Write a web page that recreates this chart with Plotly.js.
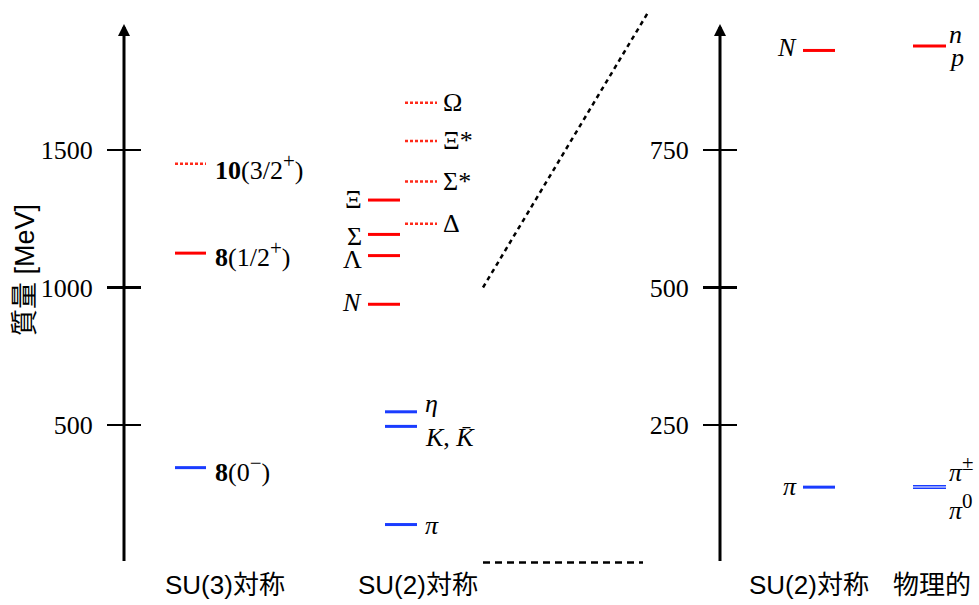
<!DOCTYPE html>
<html>
<head>
<meta charset="utf-8">
<script src="https://cdn.plot.ly/plotly-3.0.1.min.js"></script>
<style>html,body{margin:0;padding:0;background:#fff;}#chart{width:979px;height:605px;}</style>
</head>
<body>
<div id="chart"></div>
<script>
// ---------- data (MeV) ----------
const SUP = s => '<sup><span style="font-size:21px">' + s + '</span></sup>';
const su3Names = ['<b>10</b>(3/2' + SUP('+') + ')', '<b>8</b>(1/2' + SUP('+') + ')', '<b>8</b>(0' + SUP('−') + ')'];
const su3Mass  = [1450, 1125, 345];

const octetNames = ['Ξ', 'Σ', 'Λ', '<i>N</i>'];
const octetMass  = [1318, 1193, 1116, 939];

const decupletNames = ['Ω', 'Ξ*', 'Σ*', 'Δ'];
const decupletMass  = [1672, 1533, 1385, 1232];

const mesonNames = ['<i>η</i>', '<i>K</i>, <i>K̄</i>', '<i>π</i>'];
const mesonMass  = [548, 495, 138];

const su2RightNames = ['<i>N</i>', '<i>π</i>'];
const su2RightMass  = [931, 137];

const physNames = ['<i>n</i>', '<i>p</i>', '<i>π</i>' + SUP('±'), '<i>π</i>' + SUP('0')];
const physMass  = [939.6, 938.3, 139.6, 135.0];

const leftTicks  = [500, 1000, 1500];
const rightTicks = [250, 500, 750];
const zoomTop = 1000;       // upper end of the magnified region
const groupLabels = ['SU(3)対称', 'SU(2)対称', 'SU(2)対称', '物理的'];

// ---------- styling ----------
const RED = '#ff0000', RED_DOT = '#ff2a1a', BLUE = '#1a3cff';
const SERIF = 'Liberation Serif, Times New Roman, serif';
const SANS = 'Liberation Sans, Noto Sans CJK JP, sans-serif';
const W = 979, H = 605;
const baseY = 562.5;                 // pixel row of mass 0
const pxPerMeVL = 0.275, pxPerMeVR = 0.55;
const leftRange  = [-(H - baseY) / pxPerMeVL, baseY / pxPerMeVL];
const rightRange = [-(H - baseY) / pxPerMeVR, baseY / pxPerMeVR];
const axL = 124, axR = 720;

const traces = [];
const annotations = [];

function level(x0, x1, m, color, dash, width, yaxis) {
  traces.push({
    type: 'scatter', mode: 'lines', x: [x0, x1], y: [m, m], yaxis: yaxis || 'y',
    line: {color: color, width: width || 3, dash: dash || 'solid'},
    hoverinfo: 'skip', showlegend: false
  });
}
function label(x, m, text, xanchor, yshift, yref, size) {
  annotations.push({
    x: x, y: m, xref: 'x', yref: yref || 'y', text: text, showarrow: false,
    xanchor: xanchor, yanchor: 'middle', yshift: yshift || 0,
    font: {family: SERIF, size: size || 26, color: '#000'}
  });
}

// SU(3) column
const su3Style = [[RED_DOT, '3px,2px', 2.5], [RED, 'solid', 3], [BLUE, 'solid', 3]];
const su3Shift = [-3, -1, -1];
su3Mass.forEach((m, i) => {
  level(175, 206, m, su3Style[i][0], su3Style[i][1], su3Style[i][2]);
  label(213, m, su3Names[i], 'left', su3Shift[i]);
});

// SU(2) baryon octet
const octShift = [1, -2, -4, 2];
octetMass.forEach((m, i) => {
  level(368, 400, m, RED, 'solid', 3);
  label(364, m, octetNames[i], 'right', octShift[i]);
});
// SU(2) decuplet
decupletMass.forEach((m, i) => {
  level(405, 437, m, RED_DOT, '3px,2px', 2.5);
  label(441, m, decupletNames[i], 'left', 0);
});
// SU(2) mesons
const mesShift = [8, -11, -1];
mesonMass.forEach((m, i) => {
  level(385, 417, m, BLUE, 'solid', 3);
  label(423, m, mesonNames[i], 'left', mesShift[i]);
});

// right panel: SU(2)
const rShift = [3, 1];
su2RightMass.forEach((m, i) => {
  level(803, 835, m, i === 0 ? RED : BLUE, 'solid', 3, 'y2');
  label(799, m, su2RightNames[i], 'right', rShift[i], 'y2');
});
// right panel: physical
physMass.forEach((m, i) => {
  level(913, 946, m, i < 2 ? RED : BLUE, 'solid', i < 2 ? 2.2 : 1.6, 'y2');
});
const physShift = [11, -11, 17, -19];
physMass.forEach((m, i) => {
  label(947, m, physNames[i], 'left', physShift[i], 'y2');
});

// zoom connector lines
traces.push({
  type: 'scatter', mode: 'lines', x: [483, 648],
  y: [zoomTop, zoomTop * (leftRange[1] - leftRange[0]) / (rightRange[1] - rightRange[0])],
  line: {color: '#000', width: 2.5, dash: '4.5px,4px'}, hoverinfo: 'skip', showlegend: false
});
traces.push({
  type: 'scatter', mode: 'lines', x: [483, 643], y: [0, 0],
  line: {color: '#000', width: 2.5, dash: '7px,5px'}, hoverinfo: 'skip', showlegend: false
});

// axis lines with arrows
annotations.push({x: axL, y: (baseY - 24) / pxPerMeVL, ax: axL, ay: 0, xref: 'x', yref: 'y', axref: 'x', ayref: 'y',
  text: '', showarrow: true, arrowhead: 2, arrowsize: 0.8, arrowwidth: 3, arrowcolor: '#000'});
annotations.push({x: axR, y: (baseY - 24) / pxPerMeVR, ax: axR, ay: 0, xref: 'x', yref: 'y2', axref: 'x', ayref: 'y2',
  text: '', showarrow: true, arrowhead: 2, arrowsize: 0.8, arrowwidth: 3, arrowcolor: '#000'});

// group labels under columns
const groupX = [225, 418, 809, 932];
groupLabels.forEach((t, i) => {
  annotations.push({x: groupX[i], y: 1 - 585 / H, xref: 'x', yref: 'paper', text: t, showarrow: false,
    xanchor: 'center', yanchor: 'middle', font: {family: SANS, size: 26, color: '#000'}});
});
// y axis title
annotations.push({x: 25, y: 1 - 270 / H, xref: 'x', yref: 'paper', text: '質量 [MeV]', textangle: -90,
  showarrow: false, xanchor: 'center', yanchor: 'middle', font: {family: SANS, size: 27, color: '#000'}});

function tickAxis(range, vals, pos, side, len, labels) {
  return {
    range: range, anchor: 'free', position: pos / W, side: side,
    tickmode: 'array', tickvals: vals, ticks: 'outside', ticklen: len, tickwidth: 2.5, tickcolor: '#000',
    showticklabels: labels, ticklabelstandoff: 9,
    tickfont: {family: SERIF, size: 26, color: '#000'},
    showgrid: false, zeroline: false, showline: false, fixedrange: true
  };
}

const layout = {
  width: W, height: H, margin: {l: 0, r: 0, t: 0, b: 0},
  paper_bgcolor: '#fff', plot_bgcolor: '#fff', showlegend: false,
  xaxis: {range: [0, W], visible: false, fixedrange: true},
  yaxis: tickAxis(leftRange, leftTicks, axL, 'left', 17, true),
  yaxis3: Object.assign(tickAxis(leftRange, leftTicks, axL, 'right', 16, false), {overlaying: 'y'}),
  yaxis2: Object.assign(tickAxis(rightRange, rightTicks, axR, 'left', 17, true), {overlaying: 'y'}),
  yaxis4: Object.assign(tickAxis(rightRange, rightTicks, axR, 'right', 16, false), {overlaying: 'y'}),
  annotations: annotations
};
// dummy traces so overlay axes get drawn
traces.push({type: 'scatter', mode: 'none', x: [0], y: [0], yaxis: 'y3', hoverinfo: 'skip', showlegend: false});
traces.push({type: 'scatter', mode: 'none', x: [0], y: [0], yaxis: 'y4', hoverinfo: 'skip', showlegend: false});

Plotly.newPlot('chart', traces, layout, {staticPlot: true, displayModeBar: false});
</script>
</body>
</html>
